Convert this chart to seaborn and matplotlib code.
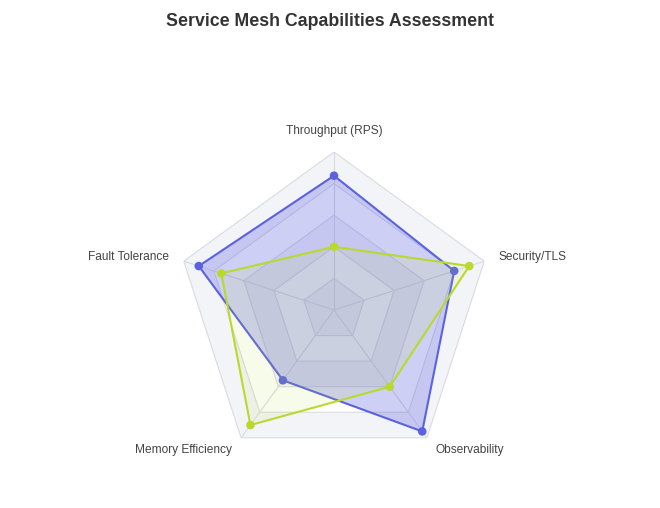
import numpy as np
import pandas as pd
import seaborn as sns
import matplotlib
matplotlib.use("Agg")
import matplotlib.pyplot as plt

# ---- data ----
categories = ["Throughput (RPS)", "Security/TLS", "Observability",
              "Memory Efficiency", "Fault Tolerance"]
series_a_name = "Mesh A"
series_a_values = [85, 80, 95, 55, 90]
series_b_name = "Mesh B"
series_b_values = [40, 90, 60, 90, 75]
ring_levels = [20, 40, 60, 80, 100]
max_value = 100

# ---- style ----
sns.set_style("white")
plt.rcParams["font.family"] = ["Liberation Sans", "DejaVu Sans"]

color_a = "#5b62e0"
color_b = "#b9d92f"
band_dark = "#f3f4f8"
band_light = "#ffffff"
grid_color = "#dadbe2"

W, H = 660, 508
cx, cy, R = 334, 310, 158
fig = plt.figure(figsize=(W / 100, H / 100), dpi=100)
ax = fig.add_axes([(cx - R) / W, (H - cy - R) / H, 2 * R / W, 2 * R / H],
                  projection="polar")
ax.set_theta_offset(np.pi / 2)
ax.set_theta_direction(-1)
ax.set_ylim(0, max_value)
ax.axis("off")

n = len(categories)
theta = np.linspace(0, 2 * np.pi, n, endpoint=False)
theta_closed = np.append(theta, 2 * np.pi)

# split areas (outer to inner, alternating)
for i, lvl in enumerate(sorted(ring_levels, reverse=True)):
    idx = ring_levels.index(lvl)
    col = band_dark if idx % 2 == 0 else band_light
    ax.fill(theta_closed, [lvl] * (n + 1), color=col, lw=0, zorder=1)
# ring lines
for lvl in ring_levels:
    ax.plot(theta_closed, [lvl] * (n + 1), color=grid_color, lw=0.8, zorder=2)
# spokes
for t in theta:
    ax.plot([t, t], [0, max_value], color=grid_color, lw=0.8, zorder=2)

# series
df = pd.DataFrame({
    "theta": np.concatenate([theta_closed, theta_closed]),
    "value": series_a_values + [series_a_values[0]] + series_b_values + [series_b_values[0]],
    "series": [series_a_name] * (n + 1) + [series_b_name] * (n + 1),
})
palette = {series_a_name: color_a, series_b_name: color_b}
alphas = {series_a_name: 0.30, series_b_name: 0.10}
for k, name in enumerate([series_a_name, series_b_name]):
    sub = df[df["series"] == name]
    ax.fill(sub["theta"], sub["value"], color=palette[name], alpha=alphas[name],
            lw=0, zorder=3 + 3 * k)
    sns.lineplot(data=sub, x="theta", y="value", sort=False, estimator=None,
                 color=palette[name], lw=1.5, ax=ax, zorder=4 + 3 * k, legend=False)
    sns.scatterplot(data=sub.iloc[:-1], x="theta", y="value", color=palette[name],
                    s=38, edgecolor="none", ax=ax, zorder=5 + 3 * k, legend=False)
ax.set_xlabel("")
ax.set_ylabel("")
ax.axis("off")
ax.set_ylim(0, max_value)

# axis names
r_lab = max_value * (R + 15) / R
aligns = [("center", "bottom"), ("left", "center"), ("left", "center"),
          ("right", "center"), ("right", "center")]
for t, name, (ha, va) in zip(theta, categories, aligns):
    ax.text(t, r_lab, name, ha=ha, va=va, fontsize=8.6, color="#444444",
            zorder=20, clip_on=False)

fig.text(0.5, 1 - 21 / H, "Service Mesh Capabilities Assessment",
         ha="center", va="center", fontsize=12.8, fontweight="bold", color="#333333")

fig.savefig("out.png", dpi=100, facecolor="white")
